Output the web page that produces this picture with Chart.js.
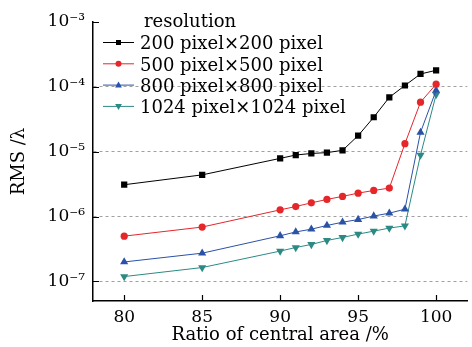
<!DOCTYPE html>
<html>
<head>
<meta charset="utf-8">
<script src="https://cdn.jsdelivr.net/npm/chart.js@4/dist/chart.umd.min.js"></script>
<style>
  html, body { margin: 0; padding: 0; background: #fff; }
  canvas { display: block; }
</style>
</head>
<body>
<canvas id="myChart" width="472" height="347"></canvas>
<script>
// ratio of central area (%)
const ratio = [80, 85, 90, 91, 92, 93, 94, 95, 96, 97, 98, 99, 100];

// RMS values, one array per resolution
const rms200 = [3.1e-6, 4.4e-6, 7.9e-6, 8.9e-6, 9.4e-6, 9.7e-6, 1.05e-5, 1.77e-5, 3.4e-5, 6.9e-5, 1.05e-4, 1.58e-4, 1.8e-4];
const rms500 = [5.0e-7, 6.9e-7, 1.27e-6, 1.43e-6, 1.63e-6, 1.84e-6, 2.05e-6, 2.3e-6, 2.53e-6, 2.75e-6, 1.33e-5, 5.8e-5, 1.1e-4];
const rms800 = [2.0e-7, 2.73e-7, 5.06e-7, 5.8e-7, 6.4e-7, 7.3e-7, 8.2e-7, 9.0e-7, 1.02e-6, 1.13e-6, 1.3e-6, 1.99e-5, 8.8e-5];
const rms1024 = [1.19e-7, 1.64e-7, 2.94e-7, 3.34e-7, 3.72e-7, 4.29e-7, 4.77e-7, 5.37e-7, 5.97e-7, 6.65e-7, 7.2e-7, 8.9e-6, 7.6e-5];

const seriesNames = ["200 pixel\u00d7200 pixel", "500 pixel\u00d7500 pixel", "800 pixel\u00d7800 pixel", "1024 pixel\u00d71024 pixel"];

// tick positions and labels
const xTicks = [80, 85, 90, 95, 100];
const yTicks = [1e-7, 1e-6, 1e-5, 1e-4, 1e-3];
const yTickLabels = ["10\u207b\u2077", "10\u207b\u2076", "10\u207b\u2075", "10\u207b\u2074", "10\u207b\u00b3"];

const FONT = "'DejaVu Serif', 'Liberation Serif', serif";

const colors = ["#000000", "#e5262a", "#2a52a6", "#2b8a84"];
const markers = ["rect", "circle", "triangle", "triangle"];
const rotations = [0, 0, 0, 180];
const radii = [4.4, 3.6, 4.7, 4.7];

const toPoints = (vals) => ratio.map((r, i) => ({ x: r, y: vals[i] }));

const datasets = [rms200, rms500, rms800, rms1024].map((vals, i) => ({
    label: seriesNames[i],
    data: toPoints(vals),
    borderColor: colors[i],
    backgroundColor: colors[i],
    borderWidth: 1,
    pointStyle: markers[i],
    pointRotation: rotations[i],
    pointRadius: radii[i],
    pointBorderWidth: 0,
    tension: 0
}));

// inward tick marks on both axes
const innerTicks = {
    id: "innerTicks",
    afterDraw(chart) {
        const ctx = chart.ctx;
        const xs = chart.scales.x, ys = chart.scales.y;
        const a = chart.chartArea;
        ctx.save();
        ctx.strokeStyle = "#000";
        ctx.lineWidth = 1.2;
        ctx.beginPath();
        xTicks.forEach(v => {
            const px = Math.round(xs.getPixelForValue(v)) + 0.5;
            ctx.moveTo(px, a.bottom);
            ctx.lineTo(px, a.bottom - 6);
        });
        yTicks.forEach(v => {
            const py = Math.round(ys.getPixelForValue(v)) + 0.5;
            ctx.moveTo(a.left, py);
            ctx.lineTo(a.left + 6, py);
        });
        ctx.stroke();
        ctx.restore();
    }
};

// legend drawn inside the plot, top left
const insideLegend = {
    id: "insideLegend",
    afterDraw(chart) {
        const ctx = chart.ctx;
        ctx.save();
        ctx.fillStyle = "#000";
        ctx.font = "18px " + FONT;
        ctx.textBaseline = "alphabetic";
        ctx.textAlign = "left";
        ctx.fillText("resolution", 144, 27);
        const rowY = [42.5, 63.8, 85.1, 106.4];
        chart.data.datasets.forEach((ds, i) => {
            const y = rowY[i];
            ctx.strokeStyle = ds.borderColor;
            ctx.lineWidth = 1;
            ctx.beginPath();
            ctx.moveTo(103, y);
            ctx.lineTo(134, y);
            ctx.stroke();
            ctx.fillStyle = ds.borderColor;
            const mx = 118.5;
            ctx.beginPath();
            if (i === 0) {
                ctx.rect(mx - 2.5, y - 2.5, 5, 5);
            } else if (i === 1) {
                ctx.arc(mx, y, 3, 0, Math.PI * 2);
            } else if (i === 2) {
                ctx.moveTo(mx, y - 3.6);
                ctx.lineTo(mx + 3.4, y + 2.4);
                ctx.lineTo(mx - 3.4, y + 2.4);
                ctx.closePath();
            } else {
                ctx.moveTo(mx, y + 3.6);
                ctx.lineTo(mx + 3.4, y - 2.4);
                ctx.lineTo(mx - 3.4, y - 2.4);
                ctx.closePath();
            }
            ctx.fill();
            ctx.fillStyle = "#000";
            ctx.fillText(ds.label, 140, y + 6.7);
        });
        ctx.restore();
    }
};

const chart = new Chart(document.getElementById("myChart").getContext("2d"), {
    type: "line",
    data: { datasets: datasets },
    options: {
        responsive: false,
        animation: false,
        layout: { padding: { top: 22, right: 0, left: 0, bottom: 0 } },
        plugins: {
            legend: { display: false },
            tooltip: { enabled: false }
        },
        scales: {
            x: {
                type: "linear",
                min: 78,
                max: 102,
                afterBuildTicks: (scale) => { scale.ticks = xTicks.map(v => ({ value: v })); },
                afterFit: (scale) => { scale.height = 46; },
                grid: { display: false },
                border: { display: true, color: "#000", width: 1.5 },
                ticks: {
                    color: "#000",
                    padding: -2,
                    maxRotation: 0,
                    font: { family: FONT, size: 17 }
                },
                title: {
                    display: true,
                    text: "Ratio of central area /%",
                    color: "#000",
                    padding: { top: 0, bottom: 1 },
                    font: { family: FONT, size: 18 }
                }
            },
            y: {
                type: "logarithmic",
                min: 5.0e-8,
                max: 1e-3,
                afterBuildTicks: (scale) => { scale.ticks = yTicks.map(v => ({ value: v })); },
                afterFit: (scale) => { scale.width = 93; },
                grid: {
                    drawTicks: false,
                    color: (c) => (c.tick && c.tick.value >= 1e-3) ? "rgba(0,0,0,0)" : "#a0a0a0",
                    lineWidth: 1
                },
                border: { display: true, color: "#000", width: 1.5, dash: [3, 3] },
                ticks: {
                    color: "#000",
                    padding: 8,
                    font: { family: FONT, size: 17 },
                    callback: (v) => {
                        const k = yTicks.indexOf(v);
                        return k >= 0 ? yTickLabels[k] : "";
                    }
                },
                title: {
                    display: true,
                    text: "RMS /\u03bb",
                    color: "#000",
                    padding: { top: 9, bottom: 0 },
                    font: { family: FONT, size: 18 }
                }
            }
        }
    },
    plugins: [innerTicks, insideLegend]
});
</script>
</body>
</html>
